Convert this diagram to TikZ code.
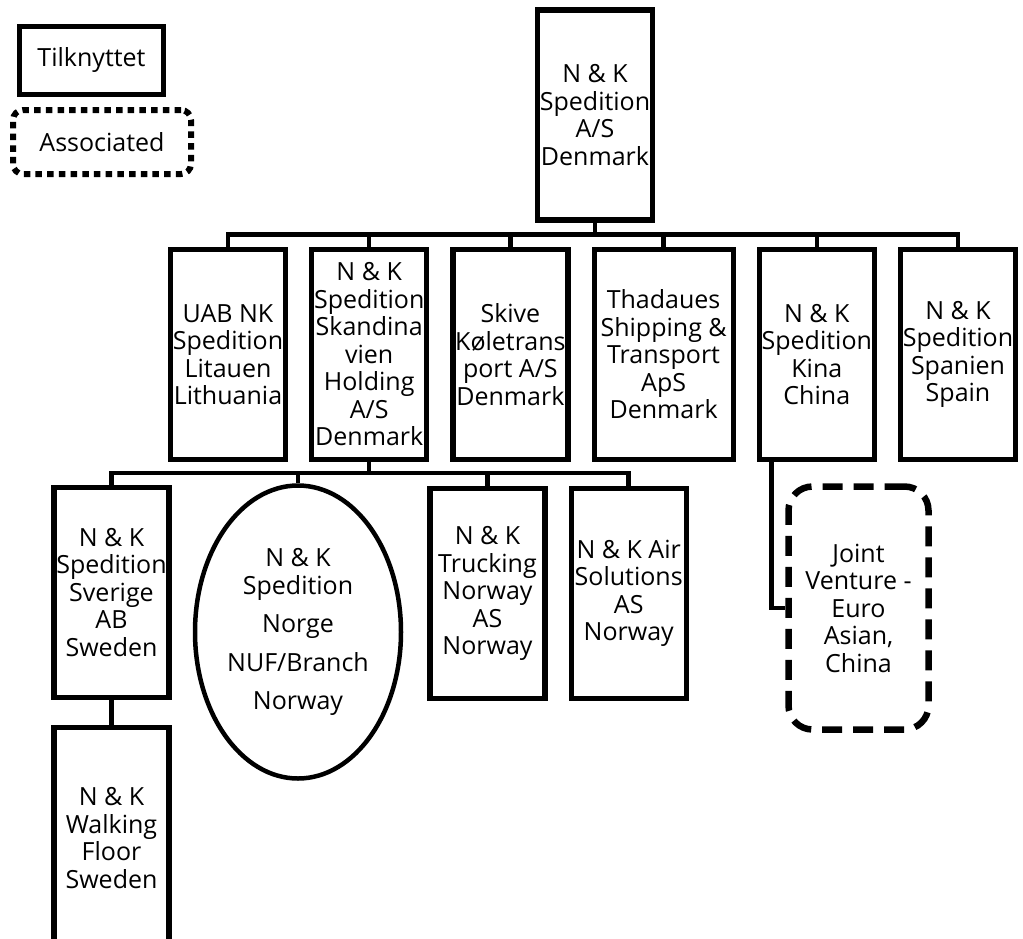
\documentclass[tikz,border=0pt]{standalone}
\usepackage{fontspec}
\setmainfont{Open Sans}
\usetikzlibrary{positioning, shapes.geometric}

\begin{document}
\begin{tikzpicture}[x=1pt, y=-1pt, node distance=21pt, line width=4.5pt,
                  company/.style={draw, rectangle, line width=5.2pt, align=center,
                  inner sep=1pt, minimum width=115pt, minimum height=210pt,
                  font=\fontsize{25}{27.5}\selectfont},
                  branch/.style={company, ellipse, line width=4.5pt,
                  minimum width=206pt, minimum height=293pt},
                  joint/.style={company, line width=6.5pt, rounded corners=24pt,
                  dash pattern=on 20pt off 11pt, minimum width=140pt,
                  minimum height=243pt},
                  associated/.style={company, line width=6pt, rounded corners=10pt,
                  dash pattern=on 6.5pt off 5.2pt, minimum width=178pt,
                  minimum height=64pt}]

                  \useasboundingbox (0,0) rectangle (1023,938);

                  % Forklaring (legend).
                  \node[company, minimum width=144pt, minimum height=68pt]
                  (tilknyttet) at (91.5,60.5) {Tilknyttet};
                  \node[associated] (associated) at (102,142) {Associated};

                  % Moderselskabet og datterselskaberne.
                  \node[company] (denmark) at (595,115)
                  {N \& K\\Spedition\\A/S\\Denmark};
                  \node[company] (litauen) at (228,354.5)
                  {UAB NK\\Spedition\\Litauen\\Lithuania};
                  \node[company, right=of litauen] (skandinavien)
                  {N \& K\\Spedition\\Skandina\\vien\\Holding\\A/S\\Denmark};
                  \node[company, right=of skandinavien] (skive)
                  {Skive\\Køletrans\\port A/S\\Denmark};
                  \node[company, minimum width=139pt, right=of skive] (thadaues)
                  {Thadaues\\Shipping \&\\Transport\\ApS\\Denmark};
                  \node[company, right=of thadaues] (kina)
                  {N \& K\\Spedition\\Kina\\China};
                  \node[company, right=of kina] (spanien)
                  {N \& K\\Spedition\\Spanien\\Spain};

                  % Selskaberne under holdingselskabet.
                  \node[company] (sverige) at (111.5,592.5)
                  {N \& K\\Spedition\\Sverige\\AB\\Sweden};
                  \node[branch] (norge) at (298,632)
                  {N \& K\\Spedition\\[11pt]Norge\\[11pt]NUF/Branch\\[11pt]Norway};
                  \node[company] (trucking) at (487.5,593.5)
                  {N \& K\\Trucking\\Norway\\AS\\Norway};
                  \node[company, right=of trucking] (air)
                  {N \& K Air\\Solutions\\AS\\Norway};
                  \node[company, minimum height=221pt, below=25pt of sverige] (walking)
                  {N \& K\\Walking\\Floor\\Sweden};
                  \node[joint] (venture) at (858.5,608)
                  {Joint\\Venture -\\Euro\\Asian,\\China};

                  % Forbindelserne.
                  \draw (denmark.south) -- ++(0,12) -| (litauen.north)
                  (denmark.south) -- ++(0,12) -| (skandinavien.north)
                  (denmark.south) -- ++(0,12) -| (skive.north)
                  (denmark.south) -- ++(0,12) -| (thadaues.north)
                  (denmark.south) -- ++(0,12) -| (kina.north)
                  (denmark.south) -- ++(0,12) -| (spanien.north);
                  \draw (skandinavien.south) -- ++(0,11) -| (sverige.north)
                  (skandinavien.south) -- ++(0,11) -| (norge.north)
                  (skandinavien.south) -- ++(0,11) -| (trucking.north)
                  (skandinavien.south) -- ++(0,11) -| (air.north);
                  \draw (sverige) -- (walking);
                  \draw ([xshift=15pt]kina.south west) |- (venture.west);

\end{tikzpicture}
\end{document}
